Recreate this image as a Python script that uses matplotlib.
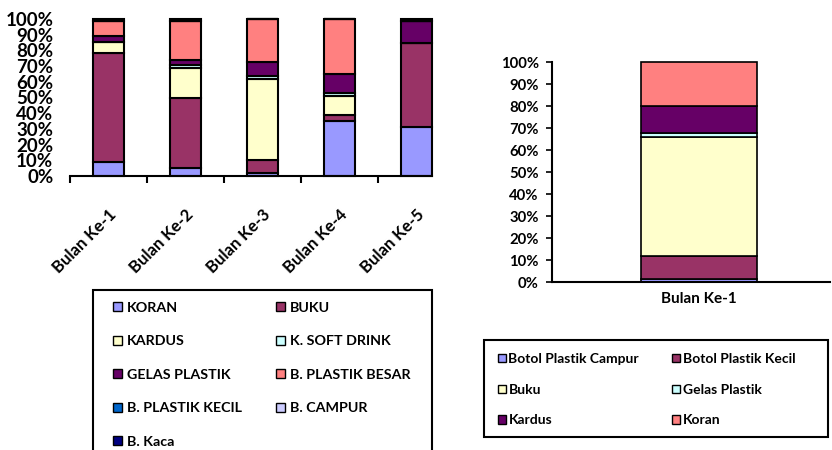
import matplotlib.pyplot as plt
from matplotlib.patches import Rectangle, Patch
import numpy as np

plt.rcParams['font.family'] = ['Lato', 'DejaVu Sans']
plt.rcParams['font.weight'] = 'bold'

W, H = 832, 450

# left chart: komposisi sampah per bulan (100% stacked)
bulan = ['Bulan Ke-1', 'Bulan Ke-2', 'Bulan Ke-3', 'Bulan Ke-4', 'Bulan Ke-5']
jenis = ['KORAN', 'BUKU', 'KARDUS', 'K. SOFT DRINK', 'GELAS PLASTIK',
         'B. PLASTIK BESAR', 'B. PLASTIK KECIL', 'B. CAMPUR', 'B. Kaca']
warna = ['#9999FF', '#993366', '#FFFFCC', '#CCFFFF', '#660066',
         '#FF8080', '#0066CC', '#CCCCFF', '#000080']
koran = [9, 5, 2, 35, 31]
buku = [69, 44.5, 8, 4, 53.5]
kardus = [7, 19, 52, 12, 0]
soft_drink = [0, 2, 1.5, 2, 0]
gelas_plastik = [3.5, 3.5, 9, 12, 14]
plastik_besar = [9.5, 24.5, 27.5, 35, 0]
plastik_kecil = [0, 0, 0, 0, 0]
campur = [0, 0, 0, 0, 0]
kaca = [1.5, 1.5, 0, 0, 1.5]

# right chart: satu bulan
kategori2 = ['Botol Plastik Campur', 'Botol Plastik Kecil', 'Buku',
             'Gelas Plastik', 'Kardus', 'Koran']
nilai2 = [1.5, 10.5, 54, 1.8, 12.2, 20]
warna2 = ['#9999FF', '#993366', '#FFFFCC', '#CCFFFF', '#660066', '#FF8080']
bulan2 = ['Bulan Ke-1']


def rect(px_left, px_top, px_right, px_bottom):
    return [px_left / W, 1 - px_bottom / H, (px_right - px_left) / W, (px_bottom - px_top) / H]


fig = plt.figure(figsize=(W / 100, H / 100), dpi=100)

# ---- left chart
ax1 = fig.add_axes(rect(70, 19, 432, 176))
data = np.array([koran, buku, kardus, soft_drink, gelas_plastik,
                 plastik_besar, plastik_kecil, campur, kaca], dtype=float)
data = data / data.sum(axis=0) * 100
x = np.arange(len(bulan))
bottom = np.zeros(len(bulan))
for row, c in zip(data, warna):
    ax1.bar(x, row, 0.4, bottom=bottom, color=c, edgecolor='black',
            linewidth=1.5, clip_on=False)
    bottom += row

ax1.set_xlim(-0.5, 4.2)
ax1.set_ylim(0, 100)
ax1.set_yticks(np.arange(0, 101, 10))
ax1.set_yticklabels([f'{v}%' for v in range(0, 101, 10)], fontsize=13.5)
ax1.tick_params(axis='y', length=0, pad=12)
ax1.set_xticks(np.arange(-0.5, 4, 1))
ax1.set_xticklabels([])
ax1.set_xticks(x, minor=True)
ax1.set_xticklabels(bulan, minor=True, rotation=45, ha='right',
                    rotation_mode='anchor', fontsize=12)
ax1.tick_params(axis='x', which='major', length=5, width=1.5, direction='out')
ax1.tick_params(axis='x', which='minor', length=0, pad=22)
for s in ['top', 'right', 'left']:
    ax1.spines[s].set_visible(False)
ax1.spines['bottom'].set_linewidth(1.5)

fig.add_artist(Rectangle((93 / W, 1 - 460 / H), (432 - 93) / W, (460 - 290) / H,
                         transform=fig.transFigure, fill=False,
                         edgecolor='black', linewidth=1.5))
h1 = [Patch(facecolor=c, edgecolor='black', linewidth=1) for c in warna]
order = list(range(0, 9, 2)) + list(range(1, 9, 2))
fig.legend([h1[i] for i in order], [jenis[i] for i in order], ncol=2,
           loc='upper left', bbox_to_anchor=(113 / W, 1 - 302 / H),
           frameon=False, borderpad=0, borderaxespad=0, fontsize=10.3,
           handlelength=0.6, handleheight=0.6, handletextpad=0.35,
           labelspacing=1.5, columnspacing=2.4)

# ---- right chart
ax2 = fig.add_axes(rect(552, 62, 830, 282))
b = 0
for v, c in zip(nilai2, warna2):
    ax2.bar([0], [v], 0.417, bottom=b, color=c, edgecolor='black',
            linewidth=1.2, clip_on=False)
    b += v
ax2.set_xlim(-0.53, 0.47)
ax2.set_ylim(0, 100)
ax2.set_yticks(np.arange(0, 101, 10))
ax2.set_yticklabels([f'{v}%' for v in range(0, 101, 10)], fontsize=10.7)
ax2.tick_params(axis='y', length=4, width=1.2, pad=5.5)
ax2.set_xticks([0])
ax2.set_xticklabels(bulan2, fontsize=11)
ax2.tick_params(axis='x', length=0, pad=7)
for s in ['top', 'right']:
    ax2.spines[s].set_visible(False)
ax2.spines['left'].set_linewidth(1.5)
ax2.spines['bottom'].set_linewidth(1.5)

fig.add_artist(Rectangle((484 / W, 1 - 437 / H), (828 - 484) / W, (437 - 340) / H,
                         transform=fig.transFigure, fill=False,
                         edgecolor='black', linewidth=1.5))
h2 = [Patch(facecolor=c, edgecolor='black', linewidth=1) for c in warna2]
order2 = [0, 2, 4, 1, 3, 5]
fig.legend([h2[i] for i in order2], [kategori2[i] for i in order2], ncol=2,
           loc='upper left', bbox_to_anchor=(498 / W, 1 - 353 / H),
           frameon=False, borderpad=0, borderaxespad=0, fontsize=10,
           handlelength=0.55, handleheight=0.55, handletextpad=0.2,
           labelspacing=1.35, columnspacing=2.4)

fig.savefig('out.png', dpi=100)
